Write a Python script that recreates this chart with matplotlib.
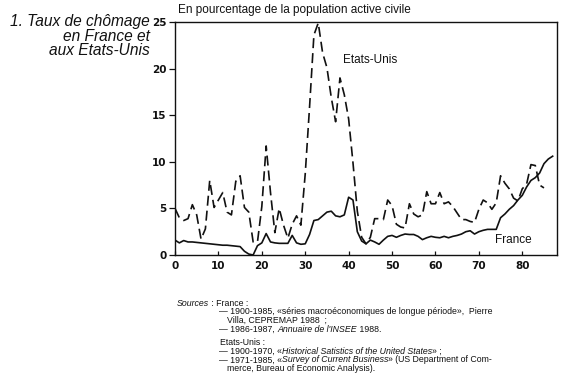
import matplotlib
matplotlib.use("Agg")
import matplotlib.pyplot as plt

# ---- data ----
years_fr = list(range(0, 88))
france = [1.6, 1.3, 1.55, 1.4, 1.4, 1.35, 1.3, 1.25, 1.2, 1.15,
          1.1, 1.05, 1.05, 1.0, 0.95, 0.9, 0.4, 0.1, 0.0, 1.0,
          1.3, 2.3, 1.4, 1.3, 1.25, 1.25, 1.25, 2.1, 1.3, 1.15,
          1.2, 2.2, 3.7, 3.8, 4.2, 4.6, 4.7, 4.2, 4.1, 4.3,
          6.2, 5.9, 2.5, 1.5, 1.2, 1.6, 1.4, 1.15, 1.6, 2.0,
          2.1, 1.9, 2.1, 2.25, 2.2, 2.2, 2.0, 1.65, 1.85, 2.0,
          1.9, 1.85, 2.0, 1.85, 2.0, 2.1, 2.25, 2.5, 2.6, 2.25,
          2.5, 2.65, 2.75, 2.75, 2.75, 4.0, 4.4, 4.9, 5.3, 5.9,
          6.4, 7.3, 8.0, 8.3, 8.8, 9.8, 10.3, 10.6]

years_us = list(range(0, 86))
usa = [5.0, 4.0, 3.7, 3.9, 5.4, 4.3, 1.7, 2.8, 8.0, 5.1,
       5.9, 6.7, 4.6, 4.3, 7.9, 8.5, 5.1, 4.6, 1.4, 1.4,
       5.2, 11.7, 6.7, 2.4, 5.0, 3.2, 1.8, 3.3, 4.2, 3.2,
       8.7, 15.9, 23.6, 24.9, 21.7, 20.1, 16.9, 14.3, 19.0, 17.2,
       14.6, 9.9, 4.7, 1.9, 1.2, 1.9, 3.9, 3.9, 3.8, 5.9,
       5.3, 3.3, 3.0, 2.9, 5.5, 4.4, 4.1, 4.3, 6.8, 5.5,
       5.5, 6.7, 5.5, 5.7, 5.2, 4.5, 3.8, 3.8, 3.6, 3.5,
       4.9, 5.9, 5.6, 4.9, 5.6, 8.5, 7.7, 7.1, 6.1, 5.8,
       7.1, 7.6, 9.7, 9.6, 7.5, 7.2]

xticks = [0, 10, 20, 30, 40, 50, 60, 70, 80]
yticks = [0, 5, 10, 15, 20, 25]

ink = "#111111"
fig = plt.figure(figsize=(5.73, 3.85), dpi=100)
ax = fig.add_axes([175/573, 1-255/385, (557-175)/573, (255-22)/385])

ax.plot(years_fr, france, color=ink, lw=1.2, solid_joinstyle="round")
ax.plot(years_us, usa, color=ink, lw=1.2, linestyle=(0, (6, 3)))

ax.set_xlim(0, 88)
ax.set_ylim(0, 25)
ax.set_xticks(xticks)
ax.set_yticks(yticks)
ax.set_xticklabels([str(t) for t in xticks], family="DejaVu Sans",
                   fontweight="bold", fontsize=7.5, color=ink)
ax.set_yticklabels([str(t) for t in yticks], family="DejaVu Sans",
                   fontweight="bold", fontsize=7.5, color=ink)
ax.tick_params(axis="x", direction="in", length=3, width=0.9, pad=4, colors=ink)
ax.tick_params(axis="y", direction="out", length=4, width=0.9, pad=2, colors=ink)
for s in ax.spines.values():
    s.set_linewidth(1.0)
    s.set_color(ink)

ax.text(38.6, 20.9, "Etats-Unis", fontsize=8.5, family="Liberation Sans",
        color=ink, va="center", ha="left")
ax.text(73.8, 1.6, "France", fontsize=8.5, family="Liberation Sans",
        color=ink, va="center", ha="left")

fig.text(178/573, 1-10/385, "En pourcentage de la population active civile",
         fontsize=8.5, family="Liberation Sans", color=ink, va="center", ha="left")

fig.text(150/573, 1-14/385, "1. Taux de chômage\nen France et\naux Etats-Unis",
         fontsize=11.2, family="Liberation Sans", style="italic", color=ink,
         va="top", ha="right", multialignment="right", linespacing=0.96)

# sources block with mixed styles
renderer = fig.canvas.get_renderer()
fs = 6.35

def seg_line(x_px, y_px, parts):
    x = x_px
    for txt, st in parts:
        t = fig.text(x/573, 1-y_px/385, txt, fontsize=fs, family="Liberation Sans",
                     style=st, color=ink, va="center", ha="left")
        bb = t.get_window_extent(renderer=renderer)
        x += bb.width

seg_line(177, 303, [("Sources", "italic"), (" : France :", "normal")])
seg_line(219, 312, [("— 1900-1985, «séries macroéconomiques de longue période»,  Pierre", "normal")])
seg_line(227, 320.5, [("Villa, CEPREMAP 1988  ;", "normal")])
seg_line(219, 329, [("— 1986-1987, ", "normal"), ("Annuaire de l'INSEE", "italic"), (" 1988.", "normal")])
seg_line(220, 342.5, [("Etats-Unis :", "normal")])
seg_line(219, 351.5, [("— 1900-1970, «", "normal"), ("Historical Satistics of the United States", "italic"), ("» ;", "normal")])
seg_line(219, 360, [("— 1971-1985, «", "normal"), ("Survey of Current Business", "italic"), ("» (US Department of Com-", "normal")])
seg_line(227, 368.5, [("merce, Bureau of Economic Analysis).", "normal")])

fig.savefig("out.png", dpi=100)
